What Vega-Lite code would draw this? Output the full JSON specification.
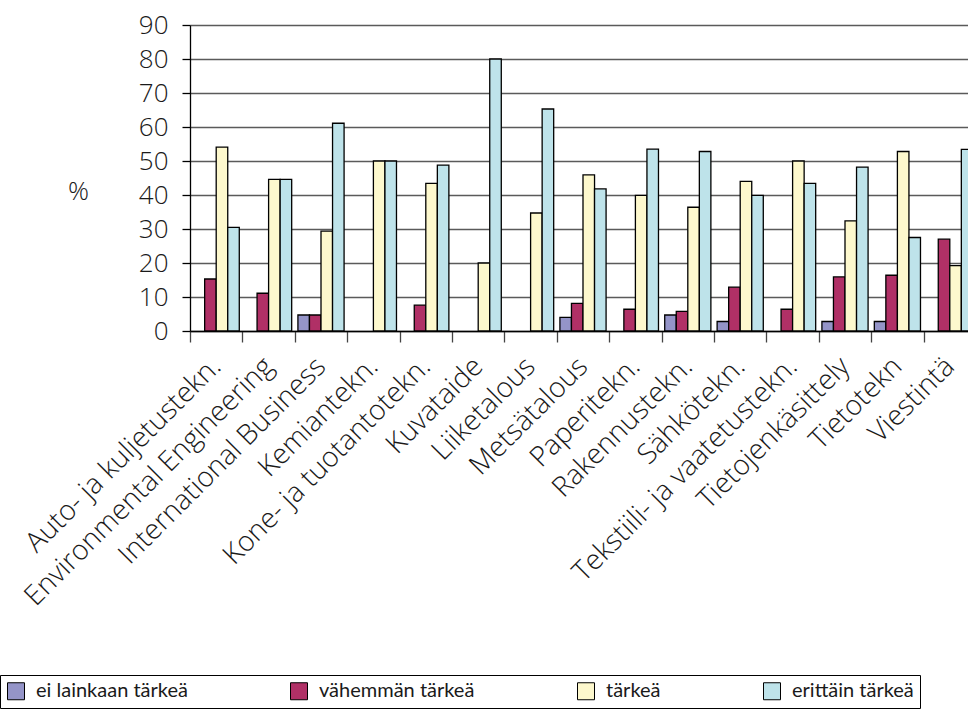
{
  "$schema": "https://vega.github.io/schema/vega-lite/v6.json",
  "autosize": {"type": "none"},
  "width": 786,
  "height": 306,
  "padding": {"left": 190, "top": 25, "right": 0, "bottom": 389},
  "background": "white",
  "config": {
    "font": "Open Sans",
    "view": {"stroke": null},
    "axis": {"labelFont": "Open Sans", "titleFont": "Open Sans", "labelColor": "#1a1a1a", "titleColor": "#1a1a1a", "domainColor": "black", "tickColor": "black"},
    "legend": {"labelFont": "Lato"}
  },
  "data": {
    "values": [
      {"ala": "Auto- ja kuljetustekn.", "vastaus": "vähemmän tärkeä", "osuus": 15.3},
      {"ala": "Auto- ja kuljetustekn.", "vastaus": "tärkeä", "osuus": 54.1},
      {"ala": "Auto- ja kuljetustekn.", "vastaus": "erittäin tärkeä", "osuus": 30.5},
      {"ala": "Environmental Engineering", "vastaus": "vähemmän tärkeä", "osuus": 11.1},
      {"ala": "Environmental Engineering", "vastaus": "tärkeä", "osuus": 44.6},
      {"ala": "Environmental Engineering", "vastaus": "erittäin tärkeä", "osuus": 44.6},
      {"ala": "International Business", "vastaus": "ei lainkaan tärkeä", "osuus": 4.7},
      {"ala": "International Business", "vastaus": "vähemmän tärkeä", "osuus": 4.7},
      {"ala": "International Business", "vastaus": "tärkeä", "osuus": 29.4},
      {"ala": "International Business", "vastaus": "erittäin tärkeä", "osuus": 61.1},
      {"ala": "Kemiantekn.", "vastaus": "tärkeä", "osuus": 50},
      {"ala": "Kemiantekn.", "vastaus": "erittäin tärkeä", "osuus": 50},
      {"ala": "Kone- ja tuotantotekn.", "vastaus": "vähemmän tärkeä", "osuus": 7.6},
      {"ala": "Kone- ja tuotantotekn.", "vastaus": "tärkeä", "osuus": 43.4},
      {"ala": "Kone- ja tuotantotekn.", "vastaus": "erittäin tärkeä", "osuus": 48.8},
      {"ala": "Kuvataide", "vastaus": "tärkeä", "osuus": 20},
      {"ala": "Kuvataide", "vastaus": "erittäin tärkeä", "osuus": 80},
      {"ala": "Liiketalous", "vastaus": "tärkeä", "osuus": 34.7},
      {"ala": "Liiketalous", "vastaus": "erittäin tärkeä", "osuus": 65.3},
      {"ala": "Metsätalous", "vastaus": "ei lainkaan tärkeä", "osuus": 4.0},
      {"ala": "Metsätalous", "vastaus": "vähemmän tärkeä", "osuus": 8.1},
      {"ala": "Metsätalous", "vastaus": "tärkeä", "osuus": 45.9},
      {"ala": "Metsätalous", "vastaus": "erittäin tärkeä", "osuus": 41.8},
      {"ala": "Paperitekn.", "vastaus": "vähemmän tärkeä", "osuus": 6.4},
      {"ala": "Paperitekn.", "vastaus": "tärkeä", "osuus": 39.9},
      {"ala": "Paperitekn.", "vastaus": "erittäin tärkeä", "osuus": 53.5},
      {"ala": "Rakennustekn.", "vastaus": "ei lainkaan tärkeä", "osuus": 4.7},
      {"ala": "Rakennustekn.", "vastaus": "vähemmän tärkeä", "osuus": 5.8},
      {"ala": "Rakennustekn.", "vastaus": "tärkeä", "osuus": 36.4},
      {"ala": "Rakennustekn.", "vastaus": "erittäin tärkeä", "osuus": 52.8},
      {"ala": "Sähkötekn.", "vastaus": "ei lainkaan tärkeä", "osuus": 2.8},
      {"ala": "Sähkötekn.", "vastaus": "vähemmän tärkeä", "osuus": 12.9},
      {"ala": "Sähkötekn.", "vastaus": "tärkeä", "osuus": 44.0},
      {"ala": "Sähkötekn.", "vastaus": "erittäin tärkeä", "osuus": 39.9},
      {"ala": "Tekstiili- ja vaatetustekn.", "vastaus": "vähemmän tärkeä", "osuus": 6.4},
      {"ala": "Tekstiili- ja vaatetustekn.", "vastaus": "tärkeä", "osuus": 50},
      {"ala": "Tekstiili- ja vaatetustekn.", "vastaus": "erittäin tärkeä", "osuus": 43.4},
      {"ala": "Tietojenkäsittely", "vastaus": "ei lainkaan tärkeä", "osuus": 2.8},
      {"ala": "Tietojenkäsittely", "vastaus": "vähemmän tärkeä", "osuus": 15.9},
      {"ala": "Tietojenkäsittely", "vastaus": "tärkeä", "osuus": 32.4},
      {"ala": "Tietojenkäsittely", "vastaus": "erittäin tärkeä", "osuus": 48.2},
      {"ala": "Tietotekn", "vastaus": "ei lainkaan tärkeä", "osuus": 2.8},
      {"ala": "Tietotekn", "vastaus": "vähemmän tärkeä", "osuus": 16.4},
      {"ala": "Tietotekn", "vastaus": "tärkeä", "osuus": 52.8},
      {"ala": "Tietotekn", "vastaus": "erittäin tärkeä", "osuus": 27.5},
      {"ala": "Viestintä", "vastaus": "vähemmän tärkeä", "osuus": 27.0},
      {"ala": "Viestintä", "vastaus": "tärkeä", "osuus": 19.2},
      {"ala": "Viestintä", "vastaus": "erittäin tärkeä", "osuus": 53.4}
    ]
  },
  "mark": {"type": "bar", "stroke": "black", "strokeWidth": 1.3},
  "encoding": {
    "x": {
      "field": "ala",
      "type": "nominal",
      "sort": null,
      "scale": {"paddingInner": 0, "paddingOuter": 0},
      "axis": {
        "title": null,
        "labelAngle": -45,
        "labelAlign": "right",
        "labelBaseline": "middle",
        "labelFontSize": 28,
        "labelFontWeight": 300,
        "labelPadding": 20,
        "tickOffset": -26.2,
        "labelOffset": 26.2,
        "tickSize": 11,
        "tickColor": "#444",
        "tickWidth": 1.3,
        "domainWidth": 1.3,
        "labelLimit": 500,
        "labelOverlap": false
      }
    },
    "xOffset": {
      "field": "vastaus",
      "type": "nominal",
      "scale": {"domain": ["ei lainkaan tärkeä", "vähemmän tärkeä", "tärkeä", "erittäin tärkeä"], "paddingInner": 0, "paddingOuter": 0.27}
    },
    "y": {
      "field": "osuus",
      "type": "quantitative",
      "scale": {"domain": [0, 90], "nice": false},
      "axis": {
        "title": "%",
        "titleAngle": 0,
        "titleAlign": "center",
        "titleBaseline": "middle",
        "titleX": -112,
        "titleY": 166,
        "titleFontSize": 26,
        "titleFontWeight": 300,
        "values": [0, 10, 20, 30, 40, 50, 60, 70, 80, 90],
        "labelFontSize": 26,
        "labelFontWeight": 300,
        "labelPadding": 14,
        "tickSize": 8,
        "tickWidth": 1.3,
        "domainWidth": 1.3,
        "grid": true,
        "gridColor": "#5a5a5a",
        "gridWidth": 1.3
      }
    },
    "color": {
      "field": "vastaus",
      "type": "nominal",
      "scale": {
        "domain": ["ei lainkaan tärkeä", "vähemmän tärkeä", "tärkeä", "erittäin tärkeä"],
        "range": ["#9494c8", "#b03066", "#fdf8cd", "#bee3ea"]
      },
      "legend": {
        "title": null,
        "orient": "none",
        "direction": "horizontal",
        "legendX": -190,
        "legendY": 650,
        "padding": 6,
        "strokeColor": "black",
        "symbolType": "square",
        "symbolSize": 289,
        "symbolStrokeColor": "black",
        "symbolStrokeWidth": 1,
        "labelFontSize": 20,
        "labelColor": "#1a1a1a",
        "labelOffset": 10,
        "labelLimit": 300,
        "columnPadding": 100
      }
    }
  }
}
